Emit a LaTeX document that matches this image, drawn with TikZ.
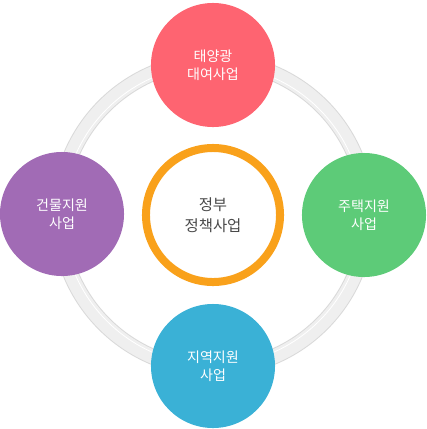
\documentclass[tikz,border=0pt]{standalone}
\usepackage{fontspec}
\setmainfont{Noto Sans CJK KR}
\definecolor{sunred}{HTML}{FE6471}
\definecolor{housegreen}{HTML}{5DCB78}
\definecolor{areablue}{HTML}{3AB1D6}
\definecolor{buildpurple}{HTML}{A16BB5}
\definecolor{hubring}{HTML}{F9A11B}
\definecolor{hubtext}{HTML}{4A4A4A}
\definecolor{ringedge}{HTML}{D9D9D9}
\definecolor{ringfill}{HTML}{EFEFEF}
\begin{document}
\begin{tikzpicture}[x=0.025cm,y=-0.025cm,
    biz/.style={circle,minimum size=3.1cm,inner sep=0pt,align=center,text=white,
      font=\fontsize{10}{12.8}\selectfont},
    hub/.style={circle,draw=hubring,fill=white,line width=0.2cm,minimum size=3.35cm,
      inner sep=0pt,align=center,text=hubtext,font=\fontsize{11}{15}\selectfont}]
  \useasboundingbox (0,0) rectangle (427,429);
  % outer ring
  \draw[ringedge,line width=0.4cm] (213,215) circle[radius=154];
  \draw[ringfill,line width=0.35cm] (213,215) circle[radius=154];
  \draw[white,line width=0.6pt] (213,215) circle[radius=150];
  % centre and four programmes
  \node[hub] (gov) at (213,215) {정부\\정책사업};
  \node[biz,fill=sunred] (solar) at (213,65) {태양광\\대여사업};
  \node[biz,fill=housegreen] (house) at (364,215) {주택지원\\사업};
  \node[biz,fill=areablue] (area) at (213,366) {지역지원\\사업};
  \node[biz,fill=buildpurple] (build) at (62,214) {건물지원\\사업};
\end{tikzpicture}
\end{document}
